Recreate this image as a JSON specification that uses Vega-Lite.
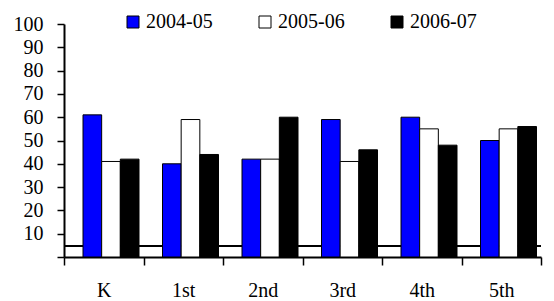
{
  "$schema": "https://vega.github.io/schema/vega-lite/v6.json",
  "width": 477,
  "height": 233,
  "autosize": {"type": "none"},
  "padding": {"left": 64, "top": 24, "right": 13, "bottom": 44},
  "background": "white",
  "config": {"font": "Liberation Serif", "view": {"stroke": null}},
  "data": {
    "values": [
      {"grade": "K", "year": "2004-05", "value": 61},
      {"grade": "K", "year": "2005-06", "value": 41},
      {"grade": "K", "year": "2006-07", "value": 42},
      {"grade": "1st", "year": "2004-05", "value": 40},
      {"grade": "1st", "year": "2005-06", "value": 59},
      {"grade": "1st", "year": "2006-07", "value": 44},
      {"grade": "2nd", "year": "2004-05", "value": 42},
      {"grade": "2nd", "year": "2005-06", "value": 42},
      {"grade": "2nd", "year": "2006-07", "value": 60},
      {"grade": "3rd", "year": "2004-05", "value": 59},
      {"grade": "3rd", "year": "2005-06", "value": 41},
      {"grade": "3rd", "year": "2006-07", "value": 46},
      {"grade": "4th", "year": "2004-05", "value": 60},
      {"grade": "4th", "year": "2005-06", "value": 55},
      {"grade": "4th", "year": "2006-07", "value": 48},
      {"grade": "5th", "year": "2004-05", "value": 50},
      {"grade": "5th", "year": "2005-06", "value": 55},
      {"grade": "5th", "year": "2006-07", "value": 56}
    ]
  },
  "layer": [
    {
      "mark": {"type": "rule", "strokeWidth": 2, "color": "black"},
      "encoding": {
        "y": {
          "datum": 4.7, "type": "quantitative",
          "scale": {"domain": [0, 100], "nice": false},
          "axis": {
            "title": null, "grid": false,
            "values": [0, 10, 20, 30, 40, 50, 60, 70, 80, 90, 100],
            "labelExpr": "datum.value == 0 ? '' : datum.label",
            "labelOverlap": false,
            "labelFont": "Liberation Serif",
            "labelFontSize": 20, "labelColor": "black", "labelPadding": 14,
            "tickSize": 7, "tickWidth": 1.5, "tickColor": "black",
            "domainColor": "black", "domainWidth": 2
          }
        }
      }
    },
    {
      "mark": {"type": "bar", "stroke": "black", "strokeWidth": 1},
      "encoding": {
        "x": {
          "field": "grade", "type": "nominal",
          "sort": ["K", "1st", "2nd", "3rd", "4th", "5th"],
          "scale": {"paddingInner": 0, "paddingOuter": 0},
          "axis": {
            "title": null, "labelAngle": 0, "tickBand": "extent",
            "labelFont": "Liberation Serif",
            "labelFontSize": 20, "labelColor": "black", "labelPadding": 15,
            "tickSize": 8, "tickWidth": 1.5, "tickColor": "black",
            "domainColor": "black", "domainWidth": 2
          }
        },
        "xOffset": {
          "field": "year", "type": "nominal",
          "scale": {"range": [19, 75]}
        },
        "y": {
          "field": "value", "type": "quantitative",
          "scale": {"domain": [0, 100], "nice": false},
          "axis": {
            "title": null, "grid": false,
            "values": [0, 10, 20, 30, 40, 50, 60, 70, 80, 90, 100],
            "labelExpr": "datum.value == 0 ? '' : datum.label",
            "labelOverlap": false,
            "labelFont": "Liberation Serif",
            "labelFontSize": 20, "labelColor": "black", "labelPadding": 14,
            "tickSize": 7, "tickWidth": 1.5, "tickColor": "black",
            "domainColor": "black", "domainWidth": 2
          }
        },
        "color": {
          "field": "year", "type": "nominal",
          "scale": {"domain": ["2004-05", "2005-06", "2006-07"], "range": ["#0000FF", "#FFFFFF", "#000000"]},
          "legend": {
            "title": null, "orient": "none", "direction": "horizontal",
            "legendX": 59, "legendY": -12,
            "symbolType": "square", "symbolSize": 144,
            "symbolStrokeColor": "black", "symbolStrokeWidth": 1, "symbolOpacity": 1,
            "labelFont": "Liberation Serif",
            "labelFontSize": 20, "labelColor": "black", "labelOffset": 3,
            "columnPadding": 42
          }
        }
      }
    }
  ]
}
